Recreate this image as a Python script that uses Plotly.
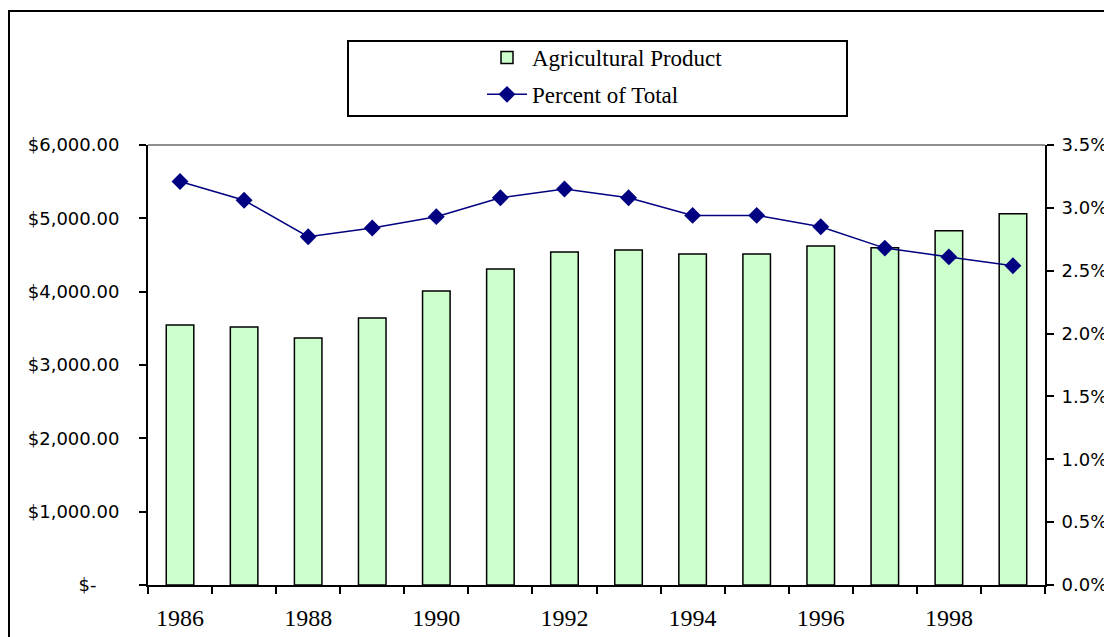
import plotly.graph_objects as go

years = [1986, 1987, 1988, 1989, 1990, 1991, 1992,
         1993, 1994, 1995, 1996, 1997, 1998, 1999]
ag_product = [3545, 3518, 3368, 3641, 4009, 4309, 4541,
              4568, 4514, 4514, 4623, 4600, 4832, 5064]
pct_total = [0.0321, 0.0306, 0.0277, 0.0284, 0.0293, 0.0308, 0.0315,
             0.0308, 0.0294, 0.0294, 0.0285, 0.0268, 0.0261, 0.0254]
x_label_years = [1986, 1988, 1990, 1992, 1994, 1996, 1998]
y_tickvals = [0, 1000, 2000, 3000, 4000, 5000, 6000]
y_ticktext = ["$-\u00a0\u00a0\u00a0\u00a0", "$1,000.00", "$2,000.00", "$3,000.00",
              "$4,000.00", "$5,000.00", "$6,000.00"]
y2_tickvals = [0, 0.005, 0.01, 0.015, 0.02, 0.025, 0.03, 0.035]

# page body has an 8px default margin
OFF = 8
L, T = 148 - OFF, 145 - OFF
PW, PH = 897, 440
W, H = 1112 - OFF, 637 - OFF
R, B = W - L - PW, H - T - PH


def px(xp):
    return (xp - 148) / PW


def py(yp):
    return (585 - yp) / PH


fig = go.Figure()
fig.add_trace(go.Bar(
    x=years, y=ag_product, name="Agricultural Product", legendgroup="a",
    marker=dict(color="#CCFFCC", line=dict(color="black", width=1.5)),
    yaxis="y",
))
fig.add_trace(go.Scatter(
    x=years, y=pct_total, name="Percent of Total", mode="lines+markers",
    legendgroup="b",
    line=dict(color="#000080", width=1.5),
    marker=dict(symbol="diamond", size=13, color="#000080"),
    yaxis="y2",
))

fig.update_layout(
    width=W, height=H,
    margin=dict(l=L, r=R, t=T, b=B, autoexpand=False),
    paper_bgcolor="white", plot_bgcolor="white",
    bargap=0.57,
    showlegend=True,
    legend=dict(
        x=px(482), y=py(36), xanchor="left", yanchor="top",
        font=dict(family="Liberation Serif", size=23, color="black"),
        bgcolor="rgba(0,0,0,0)", borderwidth=0,
        traceorder="grouped", tracegroupgap=4,
        itemwidth=40,
    ),
    xaxis=dict(
        range=[years[0] - 0.5, years[-1] + 0.5],
        tickmode="array", tickvals=x_label_years,
        ticks="", showline=True, linecolor="black", linewidth=2,
        showgrid=False, zeroline=False, automargin=False,
        tickfont=dict(family="Liberation Serif", size=24, color="black"),
        ticklabelstandoff=10,
        minor=dict(tick0=years[0] - 0.5, dtick=1, ticks="outside",
                   ticklen=7, tickwidth=2, tickcolor="black", showgrid=False),
    ),
    yaxis=dict(
        range=[0, 6000], tickvals=y_tickvals, ticktext=y_ticktext,
        ticks="outside", ticklen=7, tickwidth=2, tickcolor="black",
        showline=True, linecolor="black", linewidth=2,
        showgrid=False, zeroline=False, automargin=False,
        tickfont=dict(family="DejaVu Sans", size=18, color="black"),
        ticklabelstandoff=16,
    ),
    yaxis2=dict(
        range=[0, 0.035], tickvals=y2_tickvals, tickformat=".1%",
        overlaying="y", side="right",
        ticks="outside", ticklen=7, tickwidth=2, tickcolor="black",
        showline=True, linecolor="black", linewidth=2,
        showgrid=False, zeroline=False, automargin=False,
        tickfont=dict(family="DejaVu Sans", size=18, color="black"),
        ticklabelstandoff=4,
    ),
    shapes=[
        dict(type="line", xref="paper", yref="paper", x0=0, x1=1, y0=1, y1=1,
             line=dict(color="#909090", width=2)),
        dict(type="rect", xref="paper", yref="paper",
             x0=px(348), x1=px(847), y0=py(116), y1=py(41),
             line=dict(color="black", width=2)),
        dict(type="rect", xref="paper", yref="paper",
             x0=px(9), x1=px(1130), y0=py(660), y1=py(11),
             line=dict(color="black", width=2)),
    ],
)

fig.write_html("out.html")
